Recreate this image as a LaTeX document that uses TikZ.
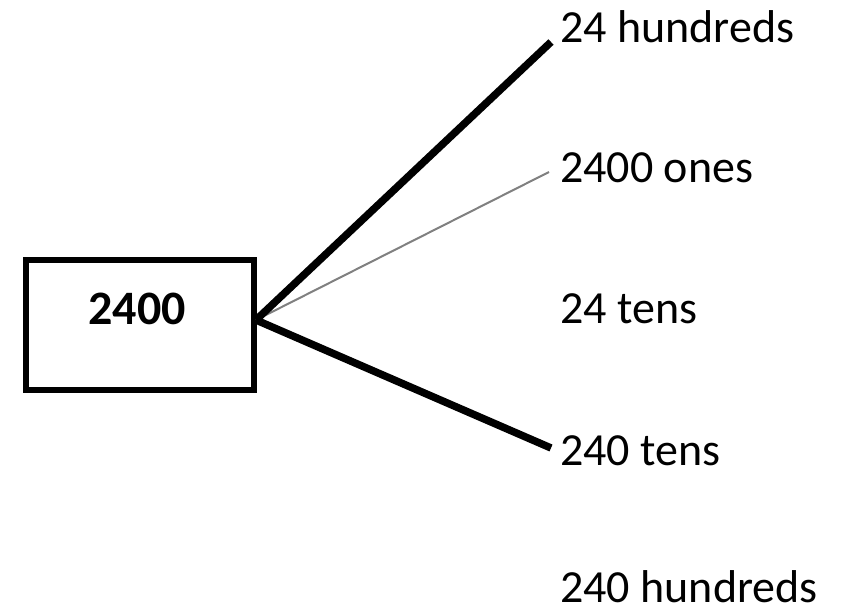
\documentclass[tikz,border=0pt]{standalone}
\usepackage{fontspec}
\setmainfont{Carlito}
\begin{document}
\begin{tikzpicture}[x=1pt,y=-1pt,
  lbl/.style={anchor=base west,inner sep=0pt,text depth=0pt,font=\fontsize{46}{50}\selectfont},
  thickline/.style={line width=7.5pt,black},
  thinline/.style={line width=2pt,color={rgb,255:red,128;green,128;blue,128}},
  numbox/.style={draw,line width=6pt,minimum width=228pt,minimum height=130pt,inner sep=0pt}]
\useasboundingbox (0,0) rectangle (849,613);
\node[numbox] (box) at (140,325) {};
\node[font=\fontsize{48}{52}\selectfont\bfseries,inner sep=0pt] (num) at (137,309) {2400};
\coordinate (hub) at (256,320);
\node[lbl] (l1) at (560,42) {24 hundreds};
\node[lbl] (l2) at (560,182) {2400 ones};
\node[lbl] (l3) at (560,323) {24 tens};
\node[lbl] (l4) at (560,465) {240 tens};
\node[lbl] (l5) at (560,602) {240 hundreds};
\coordinate (e1) at (551,42);
\coordinate (e2) at (549,172);
\coordinate (e4) at (551,448);
\draw[thinline] (hub) -- (e2);
\draw[thickline] (hub) -- (e1);
\draw[thickline] (hub) -- (e4);
\end{tikzpicture}
\end{document}
